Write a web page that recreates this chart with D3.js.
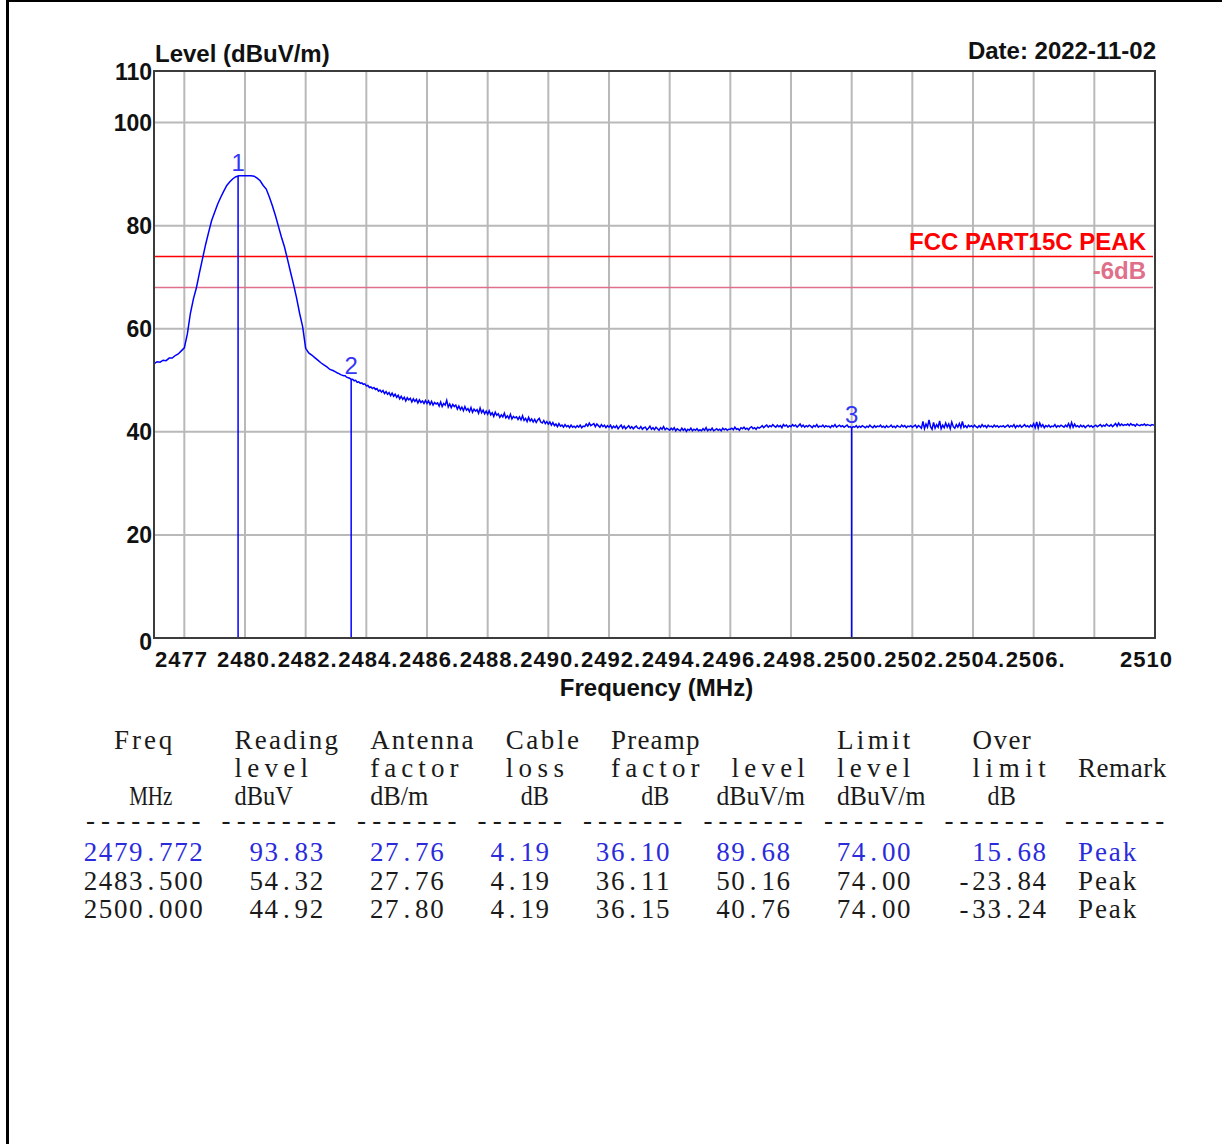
<!DOCTYPE html>
<html>
<head>
<meta charset="utf-8">
<script src="https://cdn.jsdelivr.net/npm/d3@7"></script>
<style>
  html, body { margin: 0; padding: 0; background: #fff; }
  svg { display: block; }
</style>
</head>
<body>
<svg id="chart" width="1222" height="1144"></svg>
<script>
// ---------------- DATA ----------------
const freqDomain = [2477, 2510];
const levelDomain = [0, 110];
const yTickValues = [0, 20, 40, 60, 80, 100, 110];
const yGridValues = [20, 40, 60, 80, 100];
const xGridValues = [2478, 2480, 2482, 2484, 2486, 2488, 2490, 2492, 2494, 2496, 2498, 2500, 2502, 2504, 2506, 2508];
const xTickValues = [2477, 2480, 2482, 2484, 2486, 2488, 2490, 2492, 2494, 2496, 2498, 2500, 2502, 2504, 2506, 2510];
const xTickLabels = ["2477", "2480.", "2482.", "2484.", "2486.", "2488.", "2490.", "2492.", "2494.", "2496.", "2498.", "2500.", "2502.", "2504.", "2506.", "2510"];

const limitLevelValue = 74;
const marginLevelValue = 68;
const limitName = "FCC PART15C PEAK";
const marginName = "-6dB";

// trace: each row = [start frequency (MHz), step (MHz), levels (dBuV/m)...]
const traceRows = [
  [2477, 0.1, 53.2, 53.6, 53.5, 53.9, 53.8, 54.3, 54.3, 54.8, 55.1, 55.7],
  [2478, 0.1, 56.3, 59.0, 63.0, 65.8, 68.0, 70.9, 73.6, 76.3, 78.7, 81.0],
  [2479, 0.1, 82.6, 84.2, 85.5, 86.7, 87.8, 88.5, 89.1, 89.5, 89.68, 89.68],
  [2480, 0.1, 89.68, 89.68, 89.68, 89.6, 89.2, 88.7, 87.8, 87.1, 85.6, 83.9],
  [2481, 0.1, 82.0, 79.9, 77.8, 75.9, 73.5, 71.0, 68.6, 66.0, 63.0, 60.4],
  [2482, 0.1, 56.2, 55.3, 54.9, 54.4, 53.9, 53.4, 53.0, 52.6, 52.1, 51.9],
  [2483, 0.05, 51.6, 51.4, 51.3, 51.1, 51.0, 50.9, 50.9, 50.6, 50.5, 50.4,
               50.16, 50.2, 49.9, 50.0, 49.6, 49.7, 49.4, 49.5, 49.2, 49.3],
  [2484, 0.05, 48.9, 49.0, 48.6, 48.7, 48.4, 48.6, 48.2, 48.4, 47.9, 48.1,
               47.7, 48.0, 47.4, 47.8, 47.3, 47.6, 47.0, 47.5, 46.9, 47.3],
  [2485, 0.05, 46.7, 47.1, 46.4, 46.9, 46.3, 46.7, 46.0, 46.6, 46.2, 46.5,
               45.8, 46.4, 45.9, 46.3, 45.6, 46.2, 45.7, 46.0, 45.5, 46.1],
  [2486, 0.05, 45.5, 46.0, 45.3, 45.9, 45.2, 45.7, 45.4, 45.6, 45.0, 45.8,
               44.9, 45.5, 45.2, 46.1, 44.8, 45.4, 44.7, 45.3, 44.9, 45.2],
  [2487, 0.05, 44.4, 45.0, 44.3, 44.8, 44.1, 44.9, 44.2, 44.5, 43.9, 44.7,
               43.8, 44.4, 44.0, 44.3, 43.6, 44.6, 43.7, 44.2, 43.5, 44.0],
  [2488, 0.05, 43.4, 44.1, 43.3, 43.7, 43.0, 43.8, 43.2, 43.5, 42.8, 43.3,
               42.9, 43.6, 42.7, 43.1, 42.6, 43.4, 42.5, 43.0, 42.7, 42.9],
  [2489, 0.05, 42.4, 42.9, 42.3, 43.1, 42.2, 42.6, 42.0, 42.8, 42.1, 42.5,
               41.9, 42.4, 41.8, 42.3, 42.6, 41.9, 41.7, 42.2, 41.6, 42.0],
  [2490, 0.05, 41.5, 41.9, 41.3, 41.8, 41.2, 41.5, 41.0, 41.6, 41.1, 41.3,
               40.9, 41.4, 41.0, 41.2, 40.8, 41.3, 40.9, 41.1, 40.8, 41.2],
  [2491, 0.05, 40.9, 41.3, 40.8, 41.1, 41.0, 41.5, 41.1, 41.7, 41.2, 41.4,
               41.6, 41.0, 41.5, 41.2, 40.9, 41.4, 41.0, 41.3, 40.8, 41.2],
  [2492, 0.05, 40.9, 41.3, 40.7, 41.1, 40.8, 41.2, 40.6, 41.0, 41.3, 40.7,
               41.1, 40.6, 40.9, 41.2, 40.7, 41.0, 40.6, 40.9, 41.1, 40.7],
  [2493, 0.05, 40.6, 41.0, 40.5, 40.8, 40.9, 40.4, 40.7, 41.1, 40.5, 40.8,
               40.4, 40.9, 40.6, 40.3, 40.8, 40.5, 41.0, 40.4, 40.7, 40.5],
  [2494, 0.05, 40.3, 40.7, 40.4, 40.8, 40.2, 40.6, 40.4, 40.2, 40.7, 40.3,
               40.6, 40.1, 40.5, 40.3, 40.7, 40.2, 40.5, 40.3, 40.6, 40.2],
  [2495, 0.05, 40.4, 40.2, 40.6, 40.3, 40.8, 40.2, 40.5, 40.3, 40.7, 40.2,
               40.4, 40.6, 40.3, 40.5, 40.2, 40.7, 40.4, 40.6, 40.3, 40.5],
  [2496, 0.05, 40.5, 40.7, 40.4, 40.9, 40.5, 40.6, 40.3, 40.8, 40.6, 40.9,
               40.5, 40.7, 40.4, 40.8, 41.0, 40.6, 40.8, 40.5, 40.9, 40.7],
  [2497, 0.05, 40.9, 41.2, 40.8, 41.1, 41.3, 40.9, 41.2, 41.0, 41.4, 41.1,
               40.9, 41.3, 41.0, 41.2, 40.8, 41.4, 41.1, 41.3, 40.9, 41.2],
  [2498, 0.05, 41.0, 41.4, 41.1, 41.3, 40.9, 41.2, 41.5, 41.0, 41.3, 40.9,
               41.2, 41.0, 41.3, 41.1, 40.8, 41.2, 41.0, 41.4, 40.9, 41.1],
  [2499, 0.05, 41.0, 41.3, 40.9, 41.2, 41.0, 41.1, 40.8, 41.2, 41.0, 41.4,
               40.9, 41.1, 41.3, 41.0, 41.2, 40.9, 41.1, 41.3, 40.9, 41.0],
  [2500, 0.05, 40.76, 41.0, 40.9, 41.2, 40.8, 41.1, 40.9, 41.2, 41.0, 40.8,
               41.1, 40.9, 41.3, 41.0, 40.8, 41.2, 40.9, 41.1, 41.0, 41.3],
  [2501, 0.05, 40.9, 41.1, 40.8, 41.2, 40.9, 41.0, 41.3, 40.9, 41.1, 40.8,
               41.2, 41.0, 40.9, 41.3, 41.0, 41.2, 40.8, 41.1, 41.0, 41.2],
  [2502, 0.05, 40.9, 41.1, 41.3, 40.8, 41.2, 41.0, 40.7, 42.0, 40.6, 41.5,
               40.9, 42.3, 41.0, 40.5, 41.8, 40.7, 41.4, 40.9, 42.1, 40.6],
  [2503, 0.05, 41.3, 40.8, 41.7, 40.9, 41.5, 40.6, 41.9, 41.0, 40.7, 41.4,
               40.9, 41.6, 40.8, 42.0, 40.9, 41.2, 40.8, 41.3, 41.0, 41.2],
  [2504, 0.05, 40.9, 41.3, 41.0, 40.8, 41.2, 40.9, 41.4, 41.0, 41.2, 40.8,
               41.3, 41.0, 41.1, 40.9, 41.3, 41.0, 41.2, 40.9, 41.1, 41.0],
  [2505, 0.05, 41.2, 40.9, 41.1, 41.3, 40.9, 41.2, 41.0, 41.4, 40.8, 41.2,
               41.0, 41.3, 40.9, 41.1, 41.4, 41.0, 41.2, 40.9, 41.3, 41.0],
  [2506, 0.05, 41.6, 40.8, 41.9, 40.7, 41.7, 41.0, 41.4, 40.8, 41.2, 41.0,
               41.3, 40.9, 41.1, 41.0, 41.4, 40.9, 41.2, 41.0, 41.3, 41.1],
  [2507, 0.05, 40.9, 41.3, 41.0, 41.6, 40.8, 41.8, 40.9, 41.5, 41.0, 41.2,
               40.9, 41.3, 41.0, 41.2, 40.8, 41.1, 41.3, 41.0, 41.2, 40.9],
  [2508, 0.05, 41.1, 41.3, 41.0, 41.2, 41.4, 41.0, 41.3, 41.1, 41.5, 41.2,
               41.1, 41.4, 41.0, 41.3, 41.6, 41.1, 41.7, 41.2, 41.5, 41.2],
  [2509, 0.05, 41.4, 41.3, 41.5, 41.2, 41.6, 41.3, 41.4, 41.1, 41.5, 41.3,
               41.2, 41.4, 41.3, 41.5, 41.2, 41.4, 41.3, 41.2, 41.4, 41.3],
  [2510, 0.05, 41.3]
];

// markers / result table
const markerNumbers = ["1", "2", "3"];
const markerFreqs = [2479.772, 2483.5, 2500.0];
const tableFreq = ["2479.772", "2483.500", "2500.000"];
const readingLevel = ["93.83", "54.32", "44.92"];
const antennaFactor = ["27.76", "27.76", "27.80"];
const cableLoss = ["4.19", "4.19", "4.19"];
const preampFactor = ["36.10", "36.11", "36.15"];
const emissionLevel = ["89.68", "50.16", "40.76"];
const limitLevelCol = ["74.00", "74.00", "74.00"];
const overLimit = ["15.68", "-23.84", "-33.24"];
const remark = ["Peak", "Peak", "Peak"];

const headerLine1 = ["Freq", "Reading", "Antenna", "Cable", "Preamp", "Limit", "Over"];
const headerLine2 = ["level", "factor", "loss", "factor", "level", "level", "limit", "Remark"];
const headerLine3 = ["MHz", "dBuV", "dB/m", "dB", "dB", "dBuV/m", "dBuV/m", "dB"];
const dashCounts = [8, 8, 7, 6, 7, 7, 7, 7, 7];

const yLabelText = "Level (dBuV/m)";
const xLabelText = "Frequency (MHz)";
const dateText = "Date: 2022-11-02";

// ---------------- LAYOUT ----------------
const plot = { left: 154, right: 1155, top: 71, bottom: 638 };
const boldFont = "'Liberation Sans', Arial, sans-serif";
const blue = "#0000ff";
const markerBlue = "#3535f5";

const svg = d3.select("#chart");
svg.append("rect").attr("width", 1222).attr("height", 1144).attr("fill", "#fff");
svg.append("rect").attr("x", 6).attr("y", 0).attr("width", 3).attr("height", 1144).attr("fill", "#000");
svg.append("rect").attr("x", 6).attr("y", 0).attr("width", 1216).attr("height", 2).attr("fill", "#000");

const x = d3.scaleLinear().domain(freqDomain).range([plot.left, plot.right]);
const y = d3.scaleLinear().domain(levelDomain).range([plot.bottom, plot.top]);

// grid
const grid = svg.append("g");
grid.selectAll("line.v").data(xGridValues).join("line")
  .attr("x1", d => x(d)).attr("x2", d => x(d))
  .attr("y1", plot.top).attr("y2", plot.bottom)
  .attr("stroke", "#b9b9b9").attr("stroke-width", 2);
grid.selectAll("line.h").data(yGridValues).join("line")
  .attr("x1", plot.left).attr("x2", plot.right)
  .attr("y1", d => y(d)).attr("y2", d => y(d))
  .attr("stroke", "#b9b9b9").attr("stroke-width", 2);

// limit lines
svg.append("line").attr("x1", plot.left).attr("x2", plot.right - 2)
  .attr("y1", y(limitLevelValue)).attr("y2", y(limitLevelValue))
  .attr("stroke", "#ff0000").attr("stroke-width", 1.6);
svg.append("line").attr("x1", plot.left).attr("x2", plot.right - 2)
  .attr("y1", y(marginLevelValue)).attr("y2", y(marginLevelValue))
  .attr("stroke", "#e0708a").attr("stroke-width", 1.4);
svg.append("text").attr("x", 1146).attr("y", 250).attr("text-anchor", "end")
  .attr("font-family", boldFont).attr("font-weight", "bold").attr("font-size", 24)
  .attr("fill", "#ff0000").text(limitName);
svg.append("text").attr("x", 1146).attr("y", 279).attr("text-anchor", "end")
  .attr("font-family", boldFont).attr("font-weight", "bold").attr("font-size", 24)
  .attr("fill", "#e0708a").text(marginName);

// trace
const trace = [];
traceRows.forEach(row => {
  for (let i = 2; i < row.length; i++) trace.push({ f: row[0] + (i - 2) * row[1], v: row[i] });
});
const line = d3.line().x(d => x(d.f)).y(d => y(d.v));
svg.append("path").datum(trace).attr("d", line)
  .attr("fill", "none").attr("stroke", blue).attr("stroke-width", 1.5)
  .attr("stroke-linejoin", "miter");

// markers
const markers = markerNumbers.map((n, i) => ({ n, f: markerFreqs[i], v: +emissionLevel[i] }));
svg.selectAll("line.marker").data(markers).join("line")
  .attr("x1", d => x(d.f)).attr("x2", d => x(d.f))
  .attr("y1", d => y(d.v)).attr("y2", plot.bottom)
  .attr("stroke", blue).attr("stroke-width", 1.5);
svg.selectAll("text.marker").data(markers).join("text")
  .attr("x", d => x(d.f)).attr("y", d => y(d.v) - 5)
  .attr("text-anchor", "middle").attr("font-family", "'Liberation Sans', Arial, sans-serif")
  .attr("font-size", 24).attr("fill", markerBlue).text(d => d.n);

// frame
svg.append("rect").attr("x", plot.left).attr("y", plot.top)
  .attr("width", plot.right - plot.left).attr("height", plot.bottom - plot.top)
  .attr("fill", "none").attr("stroke", "#3c3c3c").attr("stroke-width", 2);

// y tick labels
svg.selectAll("text.ytick").data(yTickValues).join("text")
  .attr("x", plot.left - 2)
  .attr("y", d => y(d) + (d === 0 ? 12 : (d === 110 ? 9 : 8)))
  .attr("text-anchor", "end").attr("font-family", boldFont).attr("font-weight", "bold")
  .attr("font-size", 23).attr("fill", "#111").text(d => d);

// x tick labels
svg.selectAll("text.xtick").data(xTickValues).join("text")
  .attr("x", (d, i) => i === 0 ? x(d) + 1 : (i === xTickValues.length - 1 ? x(d) + 18 : x(d) + 2))
  .attr("y", 667)
  .attr("text-anchor", (d, i) => i === 0 ? "start" : (i === xTickValues.length - 1 ? "end" : "middle"))
  .attr("font-family", boldFont).attr("font-weight", "bold").attr("letter-spacing", 1)
  .attr("font-size", 22).attr("fill", "#111").text((d, i) => xTickLabels[i]);

// axis titles
svg.append("text").attr("x", 155).attr("y", 62).attr("font-family", boldFont)
  .attr("font-weight", "bold").attr("font-size", 24).attr("fill", "#111").text(yLabelText);
svg.append("text").attr("x", 1156).attr("y", 59).attr("text-anchor", "end").attr("font-family", boldFont)
  .attr("font-weight", "bold").attr("font-size", 24).attr("fill", "#111").text(dateText);
svg.append("text").attr("x", (plot.left + plot.right) / 2 + 2).attr("y", 696).attr("text-anchor", "middle")
  .attr("font-family", boldFont).attr("font-weight", "bold").attr("font-size", 24)
  .attr("fill", "#111").text(xLabelText);

// ---------------- TABLE (fixed-pitch grid, serif glyphs) ----------------
const cellW = 15.06;
const tableX0 = 83;
const table = svg.append("g")
  .attr("font-family", "'Liberation Serif', 'Times New Roman', serif").attr("font-size", 27);

function putText(col, text, baseY, color) {
  const numeric = /^[0-9.\-]+$/.test(text);
  const t = table.append("text").attr("y", baseY).attr("fill", color).text(text);
  if (numeric) {
    // one glyph per fixed-pitch cell, centred
    const xs = Array.from(text, (ch, k) => (tableX0 + (col + k) * cellW + cellW / 2).toFixed(2));
    t.attr("x", xs.join(" ")).attr("text-anchor", "middle");
  } else {
    const target = text.length * cellW - 2;
    t.attr("x", tableX0 + col * cellW + 1);
    const natural = t.node().getComputedTextLength();
    t.attr("textLength", target)
      .attr("lengthAdjust", natural < target ? "spacing" : "spacingAndGlyphs");
  }
}
const h1Cols = [2, 10, 19, 28, 35, 50, 59];
const h2Cols = [10, 19, 28, 35, 43, 50, 59, 66];
const h3Cols = [3, 10, 19, 29, 37, 42, 50, 60];
const dashCols = [0, 9, 18, 26, 33, 41, 49, 57, 65];
const rowBase = [749, 777, 805];
headerLine1.forEach((t, i) => putText(h1Cols[i], t, rowBase[0], "#1a1a1a"));
headerLine2.forEach((t, i) => putText(h2Cols[i], t, rowBase[1], "#1a1a1a"));
headerLine3.forEach((t, i) => putText(h3Cols[i], t, rowBase[2], "#1a1a1a"));
dashCounts.forEach((n, i) => putText(dashCols[i], "-".repeat(n), 829, "#1a1a1a"));

const dataCols = [tableFreq, readingLevel, antennaFactor, cableLoss, preampFactor, emissionLevel, limitLevelCol, overLimit];
const dataEndCols = [7, 15, 23, 30, 38, 46, 54, 63];
const dataBase = [861, 890, 918];
for (let r = 0; r < tableFreq.length; r++) {
  const color = r === 0 ? "#2b2bdc" : "#1a1a1a";
  dataCols.forEach((col, c) => {
    const s = col[r];
    putText(dataEndCols[c] - s.length + 1, s, dataBase[r], color);
  });
  putText(66, remark[r], dataBase[r], color);
}
</script>
</body>
</html>
